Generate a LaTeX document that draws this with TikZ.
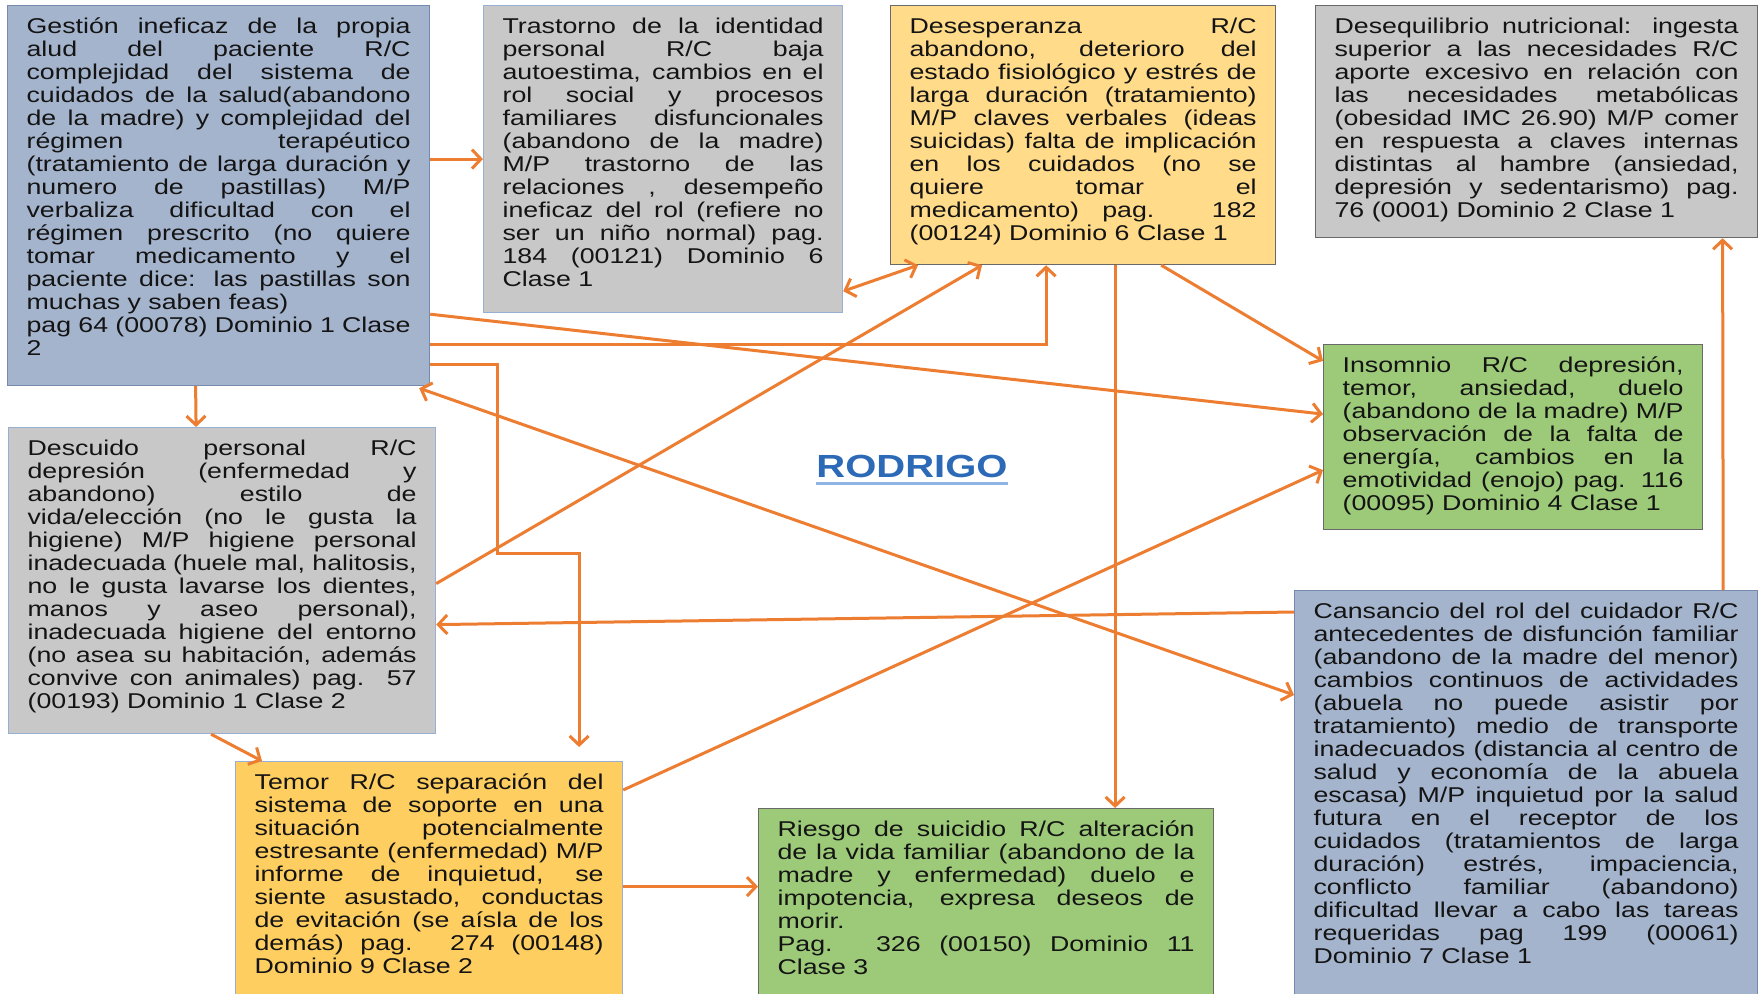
\documentclass[tikz,border=0pt]{standalone}
\usepackage{fontspec}
\setmainfont{Liberation Sans}[FakeStretch=1.25]
\usetikzlibrary{arrows.meta, positioning}

\definecolor{arrowor}{RGB}{237, 125, 49}
\definecolor{slateblue}{RGB}{165, 180, 205}
\definecolor{slateline}{RGB}{118, 138, 175}
\definecolor{boxgray}{RGB}{200, 200, 200}
\definecolor{lightline}{RGB}{150, 175, 210}
\definecolor{darkline}{RGB}{105, 105, 105}
\definecolor{paleyellow}{RGB}{255, 219, 138}
\definecolor{deepyellow}{RGB}{255, 206, 96}
\definecolor{leafgreen}{RGB}{157, 202, 121}
\definecolor{inkgray}{RGB}{20, 20, 20}
\definecolor{titleblue}{RGB}{44, 106, 184}
\definecolor{titleline}{RGB}{141, 180, 226}

\newcommand{\boxfont}{\fontsize{21.4}{23}\selectfont}
\tolerance=10000
\hbadness=10000

\begin{document}
\begin{tikzpicture}[x=1pt, y=-1pt,
  dbox/.style={draw, line width=1.2pt, anchor=north west, align=justify, inner xsep=19pt, inner ysep=0pt, text height=28pt, text=inkgray, font=\boxfont},
  conn/.style={draw=arrowor, line width=3pt, -{Straight Barb[length=9pt, width=19pt]}},
  conn2/.style={conn, {Straight Barb[length=9pt, width=19pt]}-{Straight Barb[length=9pt, width=19pt]}}
]
  \useasboundingbox (0, 0) rectangle (1761, 993);
  \clip (0, 0) rectangle (1761, 993);
  \fill[white] (0, 0) rectangle (1761, 993);

  \node[dbox, fill=slateblue, draw=slateline, text width=384pt, text depth=352pt] (gestion) at (7, 5) {
    Gestión ineficaz de la propia\linebreak
    alud del paciente R/C\linebreak
    complejidad del sistema de\linebreak
    cuidados de la salud(abandono\linebreak
    de la madre) y complejidad del\linebreak
    régimen terapéutico\linebreak
    (tratamiento de larga duración y\linebreak
    numero de pastillas) M/P\linebreak
    verbaliza dificultad con el\linebreak
    régimen prescrito (no quiere\linebreak
    tomar medicamento y el\linebreak
    paciente dice: las pastillas son\linebreak
    muchas y saben feas)\\
    pag 64 (00078) Dominio 1 Clase\linebreak
    2
  };

  \node[dbox, fill=boxgray, draw=lightline, text width=321pt, text depth=279pt] (identidad) at (483, 5) {
    Trastorno de la identidad\linebreak
    personal R/C baja\linebreak
    autoestima, cambios en el\linebreak
    rol social y procesos\linebreak
    familiares disfuncionales\linebreak
    (abandono de la madre)\linebreak
    M/P trastorno de las\linebreak
    relaciones , desempeño\linebreak
    ineficaz del rol (refiere no\linebreak
    ser un niño normal) pag.\linebreak
    184 (00121) Dominio 6\linebreak
    Clase 1
  };

  \node[dbox, fill=paleyellow, draw=darkline, text width=347pt, text depth=231pt] (desesp) at (890, 5) {
    Desesperanza R/C\linebreak
    abandono, deterioro del\linebreak
    estado fisiológico y estrés de\linebreak
    larga duración (tratamiento)\linebreak
    M/P claves verbales (ideas\linebreak
    suicidas) falta de implicación\linebreak
    en los cuidados (no se\linebreak
    quiere tomar el\linebreak
    medicamento) pag. 182\linebreak
    (00124) Dominio 6 Clase 1
  };

  \node[dbox, fill=boxgray, draw=darkline, text width=404pt, text depth=204pt] (nutric) at (1315, 5) {
    Desequilibrio nutricional: ingesta\linebreak
    superior a las necesidades R/C\linebreak
    aporte excesivo en relación con\linebreak
    las necesidades metabólicas\linebreak
    (obesidad IMC 26.90) M/P comer\linebreak
    en respuesta a claves internas\linebreak
    distintas al hambre (ansiedad,\linebreak
    depresión y sedentarismo) pag.\linebreak
    76 (0001) Dominio 2 Clase 1
  };

  \node[dbox, fill=boxgray, draw=lightline, text width=389pt, text depth=278pt] (descuido) at (8, 427) {
    Descuido personal R/C\linebreak
    depresión (enfermedad y\linebreak
    abandono) estilo de\linebreak
    vida/elección (no le gusta la\linebreak
    higiene) M/P higiene personal\linebreak
    inadecuada (huele mal, halitosis,\linebreak
    no le gusta lavarse los dientes,\linebreak
    manos y aseo personal),\linebreak
    inadecuada higiene del entorno\linebreak
    (no asea su habitación, además\linebreak
    convive con animales) pag. 57\linebreak
    (00193) Dominio 1 Clase 2
  };

  \node[dbox, fill=leafgreen, draw=darkline, text width=341pt, text depth=157pt] (insomnio) at (1323, 344) {
    Insomnio R/C depresión,\linebreak
    temor, ansiedad, duelo\linebreak
    (abandono de la madre) M/P\linebreak
    observación de la falta de\linebreak
    energía, cambios en la\linebreak
    emotividad (enojo) pag. 116\linebreak
    (00095) Dominio 4 Clase 1
  };

  \node[dbox, fill=slateblue, draw=slateline, text width=425pt, text depth=392pt] (cansancio) at (1294, 590) {
    Cansancio del rol del cuidador R/C\linebreak
    antecedentes de disfunción familiar\linebreak
    (abandono de la madre del menor)\linebreak
    cambios continuos de actividades\linebreak
    (abuela no puede asistir por\linebreak
    tratamiento) medio de transporte\linebreak
    inadecuados (distancia al centro de\linebreak
    salud y economía de la abuela\linebreak
    escasa) M/P inquietud por la salud\linebreak
    futura en el receptor de los\linebreak
    cuidados (tratamientos de larga\linebreak
    duración) estrés, impaciencia,\linebreak
    conflicto familiar (abandono)\linebreak
    dificultad llevar a cabo las tareas\linebreak
    requeridas pag 199 (00061)\linebreak
    Dominio 7 Clase 1
  };

  \node[dbox, fill=deepyellow, draw=lightline, text width=349pt, text depth=222pt] (temor) at (235, 761) {
    Temor R/C separación del\linebreak
    sistema de soporte en una\linebreak
    situación potencialmente\linebreak
    estresante (enfermedad) M/P\linebreak
    informe de inquietud, se\linebreak
    siente asustado, conductas\linebreak
    de evitación (se aísla de los\linebreak
    demás) pag. 274 (00148)\linebreak
    Dominio 9 Clase 2
  };

  \node[dbox, fill=leafgreen, draw=darkline, text width=417pt, text depth=172pt] (suicidio) at (758, 808) {
    Riesgo de suicidio R/C alteración\linebreak
    de la vida familiar (abandono de la\linebreak
    madre y enfermedad) duelo e\linebreak
    impotencia, expresa deseos de\linebreak
    morir.\\
    Pag. 326 (00150) Dominio 11\linebreak
    Clase 3
  };

  \node[font=\fontsize{32}{36}\selectfont\bfseries, text=titleblue, inner sep=0pt] (titulo) at (912, 466) {RODRIGO};
  \draw[titleline, line width=3pt] ([yshift=-6pt]titulo.base west) -- ([yshift=-6pt]titulo.base east);

  \draw[conn] (identidad.west -| gestion.east) -- (identidad.west);
  \draw[conn2] ([yshift=22pt]identidad.south east) -- ([xshift=28pt]desesp.south west);
  \draw[conn] ([yshift=42pt]gestion.south east) -| ([xshift=-37pt]desesp.south);
  \draw[conn] ([yshift=72pt]gestion.south east) -- ([yshift=23pt]insomnio.west);
  \draw[conn] ([yshift=22pt]gestion.south east) -| (497, 553) -| ([xshift=150pt, yshift=14pt]temor.north);
  \draw[conn] ([xshift=-23pt]gestion.south) -- ([xshift=-26pt]descuido.north);
  \draw[conn2] ([xshift=-11pt, yshift=-2pt]gestion.south east) -- ([yshift=-105pt]cansancio.north west);
  \draw[conn] ([yshift=-22pt]cansancio.north west) -- ([yshift=-44pt]descuido.east);
  \draw[conn] ([yshift=-3pt]descuido.east) -- ([xshift=92pt]desesp.south west);
  \draw[conn] ([xshift=-11pt]descuido.south) -- ([xshift=27pt]temor.north west);
  \draw[conn] ([yshift=-29pt]temor.north east) -- ([yshift=-33pt]insomnio.west);
  \draw[conn] (temor.east) -- (temor.east -| suicidio.west);
  \draw[conn] ([xshift=32pt]desesp.south) -- ([xshift=129pt]suicidio.north);
  \draw[conn] ([xshift=-115pt]desesp.south east) -- ([yshift=-17pt]insomnio.north west);
  \draw[conn] ([xshift=-35pt]cansancio.north east) -- ([xshift=186pt]nutric.south);
\end{tikzpicture}
\end{document}
